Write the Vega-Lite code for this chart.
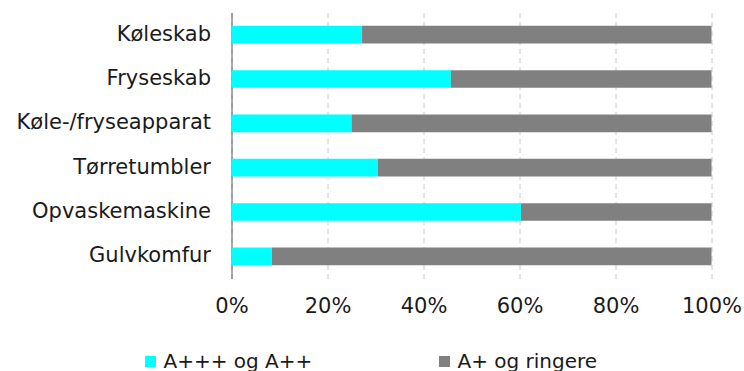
{
  "$schema": "https://vega.github.io/schema/vega-lite/v6.json",
  "width": 480,
  "height": 266,
  "autosize": "none",
  "padding": {"left": 231.5, "top": 12.5, "right": 32.5, "bottom": 92.5},
  "background": "white",
  "config": {
    "font": "DejaVu Sans",
    "view": {"stroke": null}
  },
  "data": {
    "values": [
      {"apparat": "Køleskab", "klasse": "A+++ og A++", "andel": 27.2, "orden": 1},
      {"apparat": "Køleskab", "klasse": "A+ og ringere", "andel": 72.8, "orden": 2},
      {"apparat": "Fryseskab", "klasse": "A+++ og A++", "andel": 45.7, "orden": 1},
      {"apparat": "Fryseskab", "klasse": "A+ og ringere", "andel": 54.3, "orden": 2},
      {"apparat": "Køle-/fryseapparat", "klasse": "A+++ og A++", "andel": 25.0, "orden": 1},
      {"apparat": "Køle-/fryseapparat", "klasse": "A+ og ringere", "andel": 75.0, "orden": 2},
      {"apparat": "Tørretumbler", "klasse": "A+++ og A++", "andel": 30.5, "orden": 1},
      {"apparat": "Tørretumbler", "klasse": "A+ og ringere", "andel": 69.5, "orden": 2},
      {"apparat": "Opvaskemaskine", "klasse": "A+++ og A++", "andel": 60.3, "orden": 1},
      {"apparat": "Opvaskemaskine", "klasse": "A+ og ringere", "andel": 39.7, "orden": 2},
      {"apparat": "Gulvkomfur", "klasse": "A+++ og A++", "andel": 8.4, "orden": 1},
      {"apparat": "Gulvkomfur", "klasse": "A+ og ringere", "andel": 91.6, "orden": 2}
    ]
  },
  "mark": {"type": "bar"},
  "encoding": {
    "y": {
      "field": "apparat",
      "type": "nominal",
      "sort": ["Køleskab", "Fryseskab", "Køle-/fryseapparat", "Tørretumbler", "Opvaskemaskine", "Gulvkomfur"],
      "scale": {"paddingInner": 0.6, "paddingOuter": 0.3},
      "axis": {
        "title": null,
        "ticks": false,
        "domain": true,
        "domainColor": "#595959",
        "domainWidth": 1,
        "labelFontSize": 21,
        "labelColor": "#1a1a1a",
        "labelPadding": 21,
        "labelLimit": 400,
        "labelFont": "DejaVu Sans"
      }
    },
    "x": {
      "field": "andel",
      "type": "quantitative",
      "stack": "normalize",
      "scale": {"domain": [0, 1], "nice": false},
      "axis": {
        "title": null,
        "format": ".0%",
        "values": [0, 0.2, 0.4, 0.6, 0.8, 1],
        "domain": false,
        "ticks": false,
        "grid": true,
        "gridColor": "#c8c8c8",
        "gridDash": [5, 4],
        "gridWidth": 1,
        "labelFontSize": 21,
        "labelColor": "#1a1a1a",
        "labelPadding": 17,
        "labelFlush": false,
        "labelOverlap": false,
        "labelFont": "DejaVu Sans"
      }
    },
    "color": {
      "field": "klasse",
      "type": "nominal",
      "scale": {"domain": ["A+++ og A++", "A+ og ringere"], "range": ["#00FFFF", "#808080"]},
      "legend": {
        "title": null,
        "orient": "none",
        "direction": "horizontal",
        "legendX": -91,
        "legendY": 339,
        "symbolType": "square",
        "symbolSize": 121,
        "symbolStrokeWidth": 0,
        "symbolOpacity": 1,
        "labelFontSize": 20,
        "labelColor": "#1a1a1a",
        "labelFont": "DejaVu Sans",
        "labelOffset": 3,
        "columnPadding": 122
      }
    },
    "order": {"field": "orden", "type": "quantitative"}
  }
}
